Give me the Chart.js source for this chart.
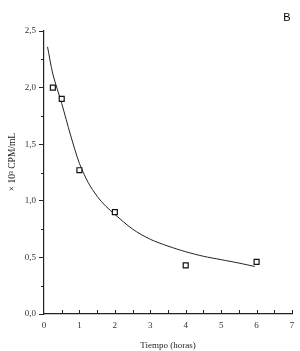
<!DOCTYPE html>
<html>
<head>
<meta charset="utf-8">
<script src="https://cdn.jsdelivr.net/npm/chart.js@4"></script>
<style>
  html, body { margin: 0; padding: 0; background: #fff; }
  #wrap { width: 300px; height: 351px; }
</style>
</head>
<body>
<div id="wrap"><canvas id="grafico" width="300" height="351"></canvas></div>
<script>
// datos medidos (cuadrados)
const tiempos = [0.25, 0.5, 1, 2, 4, 6];
const cpm = [2.0, 1.9, 1.27, 0.9, 0.43, 0.46];

// curva ajustada
const curvaX = [0.1, 0.25, 0.5, 0.75, 1, 1.25, 1.5, 1.75, 2, 2.5, 3, 3.5, 4, 4.5, 5, 5.5, 5.95];
const curvaY = [2.36, 2.12, 1.86, 1.58, 1.33, 1.16, 1.04, 0.95, 0.88, 0.75, 0.66, 0.6, 0.55, 0.51, 0.48, 0.45, 0.42];

const ticksX = [0, 1, 2, 3, 4, 5, 6, 7];
const ticksY = [0, 0.5, 1.0, 1.5, 2.0, 2.5];

const fuente = "'Liberation Serif', 'DejaVu Serif', serif";

// marcas menores, titulo del eje y, letra B
const extras = {
  id: "extras",
  afterDraw(chart) {
    const ctx = chart.ctx;
    const x = chart.scales.x, y = chart.scales.y;
    ctx.save();
    ctx.strokeStyle = "#222";
    ctx.lineWidth = 1;
    ctx.beginPath();
    for (let v = 0.25; v < 2.5; v += 0.5) {
      const py = Math.round(y.getPixelForValue(v)) + 0.5;
      ctx.moveTo(x.left - 3, py);
      ctx.lineTo(x.left, py);
    }
    for (let v = 0.5; v <= 7; v += 0.5) {
      const px = Math.round(x.getPixelForValue(v)) + 0.5;
      ctx.moveTo(px, y.bottom);
      ctx.lineTo(px, y.bottom - 4);
    }
    ctx.stroke();

    ctx.fillStyle = "#222";
    ctx.font = "9.5px " + fuente;
    ctx.textAlign = "center";
    ctx.textBaseline = "middle";
    ctx.translate(12, 162);
    ctx.rotate(-Math.PI / 2);
    ctx.fillText("× 10³ CPM/mL", 0, 0);
    ctx.restore();

    ctx.save();
    ctx.fillStyle = "#000";
    ctx.font = "11px 'Liberation Sans', Arial, sans-serif";
    ctx.textAlign = "center";
    ctx.textBaseline = "middle";
    ctx.fillText("B", 287, 18);
    ctx.restore();
  }
};

new Chart(document.getElementById("grafico"), {
  type: "scatter",
  data: {
    datasets: [
      {
        label: "datos",
        data: tiempos.map((t, i) => ({ x: t, y: cpm[i] })),
        pointStyle: "rect",
        pointRadius: 3.5,
        pointBackgroundColor: "#fff",
        pointBorderColor: "#111",
        pointBorderWidth: 1.2,
        showLine: false
      },
      {
        label: "ajuste",
        data: curvaX.map((t, i) => ({ x: t, y: curvaY[i] })),
        showLine: true,
        borderColor: "#222",
        borderWidth: 1,
        pointRadius: 0,
        tension: 0.3
      }
    ]
  },
  options: {
    responsive: false,
    animation: false,
    layout: { padding: { top: 31, right: 8, left: 0, bottom: 0 } },
    plugins: { legend: { display: false }, tooltip: { enabled: false } },
    scales: {
      x: {
        type: "linear",
        min: 0,
        max: 7,
        afterBuildTicks: (s) => { s.ticks = ticksX.map(v => ({ value: v })); },
        afterFit: (s) => { s.height = 37; },
        border: { color: "#222", width: 1.2 },
        grid: { display: false, drawOnChartArea: false, drawTicks: true, tickLength: 4, color: "#222" },
        ticks: {
          color: "#333",
          font: { family: fuente, size: 9 },
          padding: 2,
          callback: (v) => String(v)
        },
        title: {
          display: true,
          text: "Tiempo (horas)",
          color: "#222",
          font: { family: fuente, size: 9 },
          padding: { top: 0, bottom: 0 }
        }
      },
      y: {
        min: 0,
        max: 2.5,
        afterBuildTicks: (s) => { s.ticks = ticksY.map(v => ({ value: v })); },
        afterFit: (s) => { s.width = 44; },
        border: { color: "#222", width: 1.2 },
        grid: { display: true, drawOnChartArea: false, drawTicks: true, tickLength: 5, color: "#222" },
        ticks: {
          color: "#333",
          font: { family: fuente, size: 9 },
          padding: 3,
          callback: (v) => v.toFixed(1).replace(".", ",")
        }
      }
    }
  },
  plugins: [extras]
});
</script>
</body>
</html>
